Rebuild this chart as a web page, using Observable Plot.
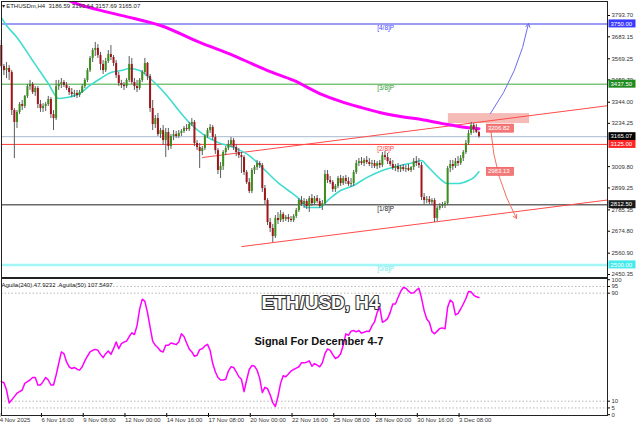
<!DOCTYPE html>
<html><head><meta charset="utf-8">
<script src="https://cdn.jsdelivr.net/npm/d3@7"></script>
<script src="https://cdn.jsdelivr.net/npm/@observablehq/plot@0.6"></script>
<style>
html,body{margin:0;padding:0;background:#fff;}
#wrap{position:relative;width:640px;height:426px;overflow:hidden;background:#fff;}
#wrap svg{position:absolute;left:0;}
</style></head><body><div id="wrap"></div>
<script>
// ---------- DATA ----------
const opens=[3638,3529,3508,3519,3498,3301,3239,3291,3332,3322,
3374,3425,3436,3394,3415,3332,3311,3322,3332,3358,
3280,3259,3425,3436,3446,3431,3415,3394,3384,3389,
3379,3394,3425,3457,3508,3571,3612,3623,3586,3540,
3508,3555,3591,3576,3545,3482,3441,3431,3425,3457,
3540,3446,3425,3415,3457,3498,3545,3477,3311,3228,
3259,3176,3197,3145,3187,3114,3166,3176,3166,3182,
3192,3208,3202,3228,3239,3130,3109,3088,3104,3166,
3197,3213,3161,3093,2990,3010,3083,3104,3125,3145,
3109,3083,3067,3057,2979,2927,2881,2990,3005,3026,
3016,2896,2834,2720,2689,2647,2741,2730,2761,2736,
2746,2736,2730,2751,2782,2834,2813,2829,2803,2844,
2818,2844,2829,2803,2818,2969,2938,2927,2891,2907,
2948,2922,2948,2933,2917,2922,2979,3026,3036,3026,
3042,3031,3021,3026,3010,3026,3016,3067,3057,3036,
3021,3000,3010,2995,3005,2995,3000,2990,3005,3036,
3026,3016,2850,2834,2839,2824,2834,2741,2793,2803,
2808,2818,3000,3021,3010,3036,3026,3052,3083,3130,
3182,3223,3202,3186.59];
const highs=[3664,3540,3550,3534,3508,3311,3301,3342,3353,3379,
3436,3457,3446,3425,3425,3353,3337,3342,3374,3368,
3301,3457,3457,3467,3457,3446,3425,3415,3405,3405,
3405,3436,3467,3519,3581,3623,3654,3643,3602,3560,
3571,3612,3638,3586,3560,3498,3457,3446,3467,3581,
3571,3467,3457,3467,3508,3571,3550,3488,3353,3275,
3285,3208,3223,3208,3208,3176,3197,3192,3197,3202,
3218,3228,3239,3259,3249,3145,3130,3114,3176,3208,
3228,3223,3176,3104,3031,3093,3114,3145,3161,3156,
3125,3104,3083,3067,2990,2948,3000,3016,3042,3036,
3026,2912,2844,2741,2710,2756,2772,2782,2772,2756,
2761,2751,2761,2793,2844,2855,2844,2839,2855,2865,
2855,2860,2844,2834,2990,2990,2959,2938,2917,2959,
2964,2959,2964,2953,2948,2990,3042,3052,3057,3052,
3062,3052,3042,3042,3036,3042,3083,3088,3078,3052,
3042,3021,3026,3016,3021,3016,3021,3010,3052,3062,
3052,3031,2870,2855,2855,2844,2844,2803,2818,2824,
2829,3010,3042,3042,3052,3062,3067,3093,3145,3197,
3239,3233,3228,3193.64];
const lows=[3519,3482,3467,3457,3275,3052,3208,3280,3301,3311,
3363,3405,3384,3374,3311,3291,3291,3296,3322,3259,
3197,3249,3405,3415,3420,3405,3379,3368,3368,3363,
3368,3389,3415,3446,3498,3550,3581,3571,3508,3488,
3498,3545,3560,3529,3467,3425,3415,3405,3415,3446,
3436,3405,3394,3405,3446,3488,3457,3291,3197,3208,
3166,3156,3119,3057,3093,3099,3145,3156,3156,3166,
3182,3192,3192,3218,3114,3093,3000,3067,3093,3156,
3182,3145,3073,2969,2948,2990,3067,3093,3109,3093,
3062,3052,2974,2964,2917,2870,2870,2969,2990,3000,
2876,2813,2704,2668,2616,2637,2710,2720,2720,2725,
2720,2720,2720,2741,2772,2803,2793,2787,2772,2803,
2808,2818,2793,2782,2808,2922,2917,2876,2876,2896,
2907,2912,2917,2907,2902,2907,2969,3010,3016,3010,
3021,3010,3000,3000,2995,3000,3005,3042,3021,3010,
2990,2984,2979,2979,2984,2979,2984,2979,2990,3010,
3000,2834,2813,2818,2813,2808,2720,2725,2782,2793,
2793,2808,2979,2990,3000,3010,3016,3036,3073,3119,
3171,3182,3182,3157.69];
const closes=[3529,3508,3519,3498,3301,3239,3291,3332,3322,3374,
3425,3436,3394,3415,3332,3311,3322,3332,3358,3280,
3259,3425,3436,3446,3431,3415,3394,3384,3389,3379,
3394,3425,3457,3508,3571,3612,3623,3586,3540,3508,
3555,3591,3576,3545,3482,3441,3431,3425,3457,3540,
3446,3425,3415,3457,3498,3545,3477,3311,3228,3259,
3176,3197,3145,3187,3114,3166,3176,3166,3182,3192,
3208,3202,3228,3239,3130,3109,3088,3104,3166,3197,
3213,3161,3093,2990,3010,3083,3104,3125,3145,3109,
3083,3067,3057,2979,2927,2881,2990,3005,3026,3016,
2896,2834,2720,2689,2647,2741,2730,2761,2736,2746,
2736,2730,2751,2782,2834,2813,2829,2803,2844,2818,
2844,2829,2803,2818,2969,2938,2927,2891,2907,2948,
2922,2948,2933,2917,2922,2979,3026,3036,3026,3042,
3031,3021,3026,3010,3026,3016,3067,3057,3036,3021,
3000,3010,2995,3005,2995,3000,2990,3005,3036,3026,
3016,2850,2834,2839,2824,2834,2741,2793,2803,2808,
2818,3000,3021,3010,3036,3026,3052,3083,3130,3182,
3223,3202,3187,3165.07];
// moving averages: [bar, price]
const fastMA=[[1,3783],[3,3742],[7,3680],[13,3560],[19,3441],[23,3363],[26,3368],[31,3389],[35,3431],[39,3467],[43,3498],[47,3508],[50,3519],[54,3508],[58,3467],[62,3415],[66,3353],[69,3301],[73,3239],[79,3171],[84,3135],[90,3109],[96,3067],[101,3005],[107,2927],[111,2886],[115,2844],[118,2798],[123,2798],[126,2834],[131,2886],[136,2912],[141,2953],[147,2990],[154,3016],[159,3031],[162,3042],[164,3016],[167,2974],[169,2948],[172,2922],[176,2922],[180,2938],[182,2953],[184,2983.13]];
const slowMA=[[24,3892],[27,3871],[39,3820],[52,3778],[62,3742],[77,3654],[90,3586],[103,3508],[113,3457],[123,3389],[131,3348],[139,3316],[146,3291],[154,3270],[162,3254],[170,3233],[179,3213],[184,3206.82]];
const aguila=[24.5,23.7,18.3,8.6,11,13.4,15.9,17.1,18.3,23.2,
24.5,25.7,27.6,27.6,22,22,24.5,27.6,25.7,22,
22,29.4,37.9,46.5,45.2,39.1,35.5,34.2,35,33.7,
33,35.5,39.9,43.3,46.5,47.7,48.4,47.7,44.7,42.3,
45.2,47.2,44.7,48.9,53.8,48.9,52.6,53.8,54.5,57.9,
60.6,59.4,66,78.2,85.6,83.9,75.8,64.8,54.5,51.4,
49.6,47.2,46.5,51.4,51.4,53.1,52.6,51.9,53.8,59.9,
57.9,53.1,48.7,46.5,43.3,44,48.2,48.9,50.9,52.1,
47.7,37.9,31.8,27.6,25.7,25.7,26.2,32.3,35.5,35,
31.8,28.1,26.2,17.1,25.7,33.5,36.4,35.9,33,26.9,
16.4,20.3,19.3,14.7,9,6.1,13.4,23.2,28.9,28.1,
30.1,32.3,33.5,34.5,35.5,38.4,38.4,38.9,39.9,35.9,
37.9,36.7,35.5,38.4,45.2,48.7,47.7,44.5,41.6,42.6,
45.2,51.4,59.9,58.7,61.9,62.4,61.4,62.4,60.4,61.1,
61.9,61.6,65.8,68.7,75.8,79.5,68.5,69.5,71.2,75.8,
82,82,86.8,91.3,94.2,93.7,91.7,90,90.3,92.2,
93.7,86.4,77.1,70.9,68.5,61.6,59.9,61.9,63.9,64.3,
63.6,79.5,84.9,83.1,73.9,75.1,78.3,82,86.1,91.3,
91,88.6,87.3,86.8];
const priceTicks=[3793.70,3683.15,3569.25,3459.70,3344.00,3234.25,3009.80,2899.25,2785.35,2674.80,2560.90,2450.35];
const aguilaTicks=[100,95,90,10,5,0];
const aguilaLevels=[95,90,10,5];
const xTickBars=[0,16,32,48,64,80,96,112,128,144,160,176];
const xTickLabels=["4 Nov 2025","6 Nov 16:00","9 Nov 08:00","12 Nov 00:00","14 Nov 16:00","17 Nov 08:00","20 Nov 00:00","22 Nov 16:00","25 Nov 08:00","28 Nov 00:00","30 Nov 16:00","3 Dec 08:00"];
const levelPrices=[3750,3437.5,3165.07,3125,2812.5,2500];
const levelKeys=["m4","m3","last","m2","m1","m0"];
const murreyNames=["[4/8]P","[3/8]P","","[2/8]P","[1/8]P","[0/8]P"];
const murreyLabelBar=145;
const channelUpper=[[78,3057],[234,3327]];
const channelLower=[[93,2595],[234,2838]];
const zoneBars=[172.3,203.4];
const zonePrices=[3233,3285];
const arrowStarts=[[188.4,3285],[188.6,3192]];
const arrowEnds=[[203,3752],[198.4,2741]];
const arrowKeys=["up","down"];
const maLabelPrices=[3206.82,2983.13];
const headerText="▾ ETHUSDm,H4  3186.59 3193.64 3157.69 3165.07";
const aguilaText="Aguila(240) 47.9232  Aguila(50) 107.5497";
const titleText="ETH/USD, H4";
const subtitleText="Signal For December 4-7";

// ---------- STYLES ----------
const FONT='"Liberation Sans", Arial, sans-serif';
const UP="#3a8f1a", DN="#a0151a", WICK="#5c5c5c";
const levelStyle={
  m4:{stroke:"#9c9cf4",w:2,text:"#4a4aff",badge:"#3a3aff"},
  m3:{stroke:"#3aa83a",w:1,text:"#2f9a2f",badge:"#1f8c1f"},
  last:{stroke:"#a9b9cf",w:1,text:"#000",badge:"#000000"},
  m2:{stroke:"#ff3a3a",w:1,text:"#ff3a3a",badge:"#ff2424"},
  m1:{stroke:"#6a6a6a",w:1.5,text:"#222",badge:"#1a1a1a"},
  m0:{stroke:"#a2f6f6",w:2.5,text:"#6ee8e8",badge:"#46eaea"}
};
const arrowColor={up:"#6b6bf2",down:"#f2705e"};

// ---------- BUILD ----------
const bars=closes.map((c,k)=>({i:k+1,o:opens[k],h:highs[k],l:lows[k],c}));
const levels=levelPrices.map((p,k)=>({p,key:levelKeys[k],name:murreyNames[k]}));
const X={domain:[0,100],range:[-1.8,259.2]};
const wrap=document.getElementById("wrap");

const topChart=Plot.plot({
  width:640,height:278,marginTop:1,marginBottom:1,marginLeft:1,marginRight:33,
  x:{...X,axis:null},
  y:{domain:[2450.35,3793.70],range:[274,15]},
  color:{type:"identity"},
  style:{fontFamily:FONT,fontSize:"6px",background:"transparent",overflow:"visible"},
  marks:[
    Plot.rect([0],{x1:()=>zoneBars[0],x2:()=>zoneBars[1],y1:()=>zonePrices[0],y2:()=>zonePrices[1],fill:"#f3b0aa",fillOpacity:0.85,clip:true}),
    ...levels.map(d=>Plot.ruleY([d.p],{stroke:levelStyle[d.key].stroke,strokeWidth:levelStyle[d.key].w})),
    Plot.text(levels.filter(d=>d.name),{x:()=>murreyLabelBar,y:"p",text:"name",fill:d=>levelStyle[d.key].text,textAnchor:"start",lineAnchor:"top",dy:1.5,fontSize:6.5}),
    Plot.link([channelUpper,channelLower],{x1:d=>d[0][0],y1:d=>d[0][1],x2:d=>d[1][0],y2:d=>d[1][1],stroke:"#ff4a4a",strokeWidth:1,clip:true}),
    Plot.line(slowMA,{x:d=>d[0],y:d=>d[1],stroke:"#ff00ff",strokeWidth:3,curve:"monotone-x",clip:true}),
    Plot.line(fastMA,{x:d=>d[0],y:d=>d[1],stroke:"#3fdcd0",strokeWidth:1.6,curve:"monotone-x",clip:true}),
    Plot.ruleX(bars,{x:"i",y1:"l",y2:"h",stroke:WICK,strokeWidth:1}),
    Plot.ruleX(bars,{x:"i",y1:"o",y2:"c",stroke:d=>d.c>=d.o?UP:DN,strokeWidth:2}),
    Plot.arrow(arrowKeys.map((k,j)=>({k,s:arrowStarts[j],e:arrowEnds[j]})),{
      x1:d=>d.s[0],y1:d=>d.s[1],x2:d=>d.e[0],y2:d=>d.e[1],
      stroke:d=>arrowColor[d.k],bend:-12,headLength:6,strokeWidth:1}),
    Plot.text([headerText],{frameAnchor:"top-left",dx:0,dy:2,lineAnchor:"top",textAnchor:"start",fill:"#222",fontSize:6}),
    Plot.axisY({ticks:priceTicks,anchor:"right",tickSize:2,tickPadding:2,tickFormat:d=>d.toFixed(2),fontSize:6,fill:"#333",label:null}),
    Plot.frame({stroke:"#222",strokeWidth:1})
  ]
});
topChart.style.top="0px";
wrap.appendChild(topChart);

(function(){
  const ys=topChart.scale("y"), xs=topChart.scale("x");
  const g=d3.select(topChart).append("g").attr("font-family",FONT).attr("font-size",6).attr("text-anchor","start");
  levels.forEach(d=>{
    const y=ys.apply(d.p);
    g.append("rect").attr("x",608.5).attr("y",y-4).attr("width",27).attr("height",8).attr("fill",levelStyle[d.key].badge);
    g.append("text").attr("x",610.5).attr("y",y).attr("dy","0.35em").attr("text-anchor","start").attr("fill","#fff").text(d.p.toFixed(2));
  });
  const xl=xs.apply(closes.length)+8;
  maLabelPrices.forEach(p=>{
    const y=ys.apply(p);
    g.append("rect").attr("x",xl).attr("y",y-4).attr("width",27).attr("height",8).attr("fill","#f47a7a").attr("stroke","#e84a4a").attr("stroke-width",0.6);
    g.append("text").attr("x",xl+1.5).attr("y",y).attr("dy","0.35em").attr("text-anchor","start").attr("fill","#fff").text(p.toFixed(2));
  });
})();

const labelByBar=new Map(xTickBars.map((b,k)=>[b,xTickLabels[k]]));
const indChart=Plot.plot({
  width:640,height:148,marginTop:0,marginBottom:11,marginLeft:1,marginRight:33,
  x:{...X},
  y:{domain:[0,100],range:[136.2,1.2]},
  style:{fontFamily:FONT,fontSize:"6px",background:"transparent",overflow:"visible"},
  marks:[
    Plot.ruleY(aguilaLevels,{stroke:"#b8b8b8",strokeDasharray:"1.5,2"}),
    Plot.line(aguila.map((v,k)=>({i:k+1,v})),{x:"i",y:"v",stroke:"#ff00ff",strokeWidth:1.5}),
    Plot.text([aguilaText],{frameAnchor:"top-left",dx:0,dy:4,lineAnchor:"top",textAnchor:"start",fill:"#222",fontSize:6}),
    Plot.text([titleText],{frameAnchor:"top",dx:16,dy:24.5,lineAnchor:"middle",fill:"#fff",stroke:"#333",strokeWidth:2.2,paintOrder:"stroke",fontWeight:"bold",fontSize:19,ariaLabel:"title"}),
    Plot.text([subtitleText],{frameAnchor:"top",dx:14.5,dy:63,lineAnchor:"middle",fill:"#111",fontWeight:"bold",fontSize:11,ariaLabel:"subtitle"}),
    Plot.axisX({ticks:xTickBars,anchor:"bottom",tickSize:4,tickPadding:0,dy:-2,dx:1,textAnchor:"start",tickFormat:d=>labelByBar.get(d),fontSize:6,fill:"#333",label:null}),
    Plot.axisY({ticks:aguilaTicks,anchor:"right",tickSize:2,tickPadding:2,fontSize:6,fill:"#333",label:null}),
    Plot.frame({stroke:"#222",strokeWidth:1})
  ]
});
indChart.style.top="278px";
wrap.appendChild(indChart);
d3.select(indChart).select('g[aria-label="title"]').style("filter","drop-shadow(1.5px 1.5px 1px rgba(0,0,0,0.55))");
d3.select(indChart).select('g[aria-label="subtitle"]').style("filter","drop-shadow(1.5px 1.5px 1px rgba(0,0,0,0.35))");
</script></body></html>
